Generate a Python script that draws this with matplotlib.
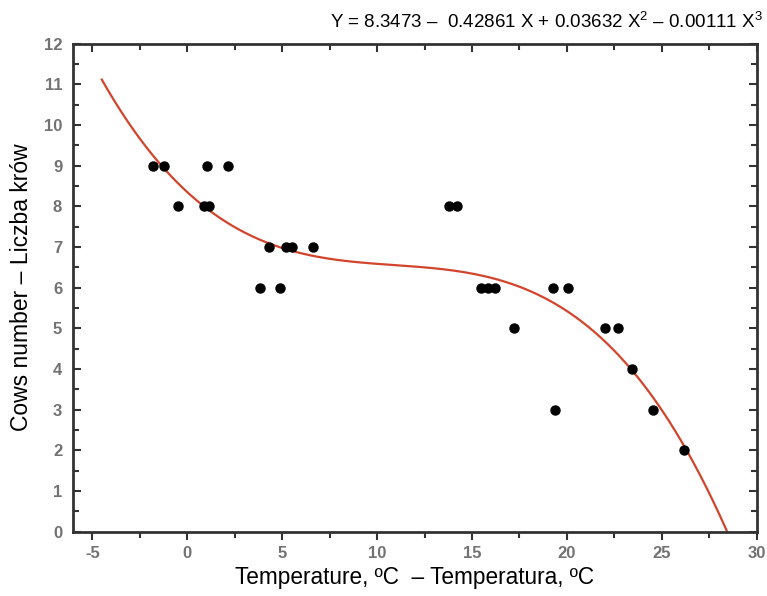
#!/usr/bin/env python3
"""Cows number vs temperature with the cubic fit shown on the chart."""
import matplotlib
matplotlib.use("Agg")
import matplotlib.pyplot as plt
import numpy as np
from matplotlib.ticker import MultipleLocator

# observed points (temperature, cows)
temperature = [-1.8, -1.2, 1.05, 2.15,
               -0.5, 0.9, 1.15, 13.8, 14.2,
               4.3, 5.2, 5.5, 6.65,
               3.85, 4.9, 15.5, 15.85, 16.2, 19.25, 20.05,
               17.2, 22.0, 22.7,
               23.45, 19.35, 24.55, 26.15]
cows = [9, 9, 9, 9,
        8, 8, 8, 8, 8,
        7, 7, 7, 7,
        6, 6, 6, 6, 6, 6, 6,
        5, 5, 5,
        4, 3, 3, 2]

# fitted polynomial as printed on the chart (highest power first)
fit_coeffs = [-0.00111, 0.03632, -0.42861, 8.3473]
fit_start = -4.5
fit_end = 28.45

equation = ("Y = 8.3473 \u2013  0.42861 X + 0.03632 X$^2$ \u2013 0.00111 X$^3$")

plt.rcParams["font.family"] = ["Liberation Sans", "DejaVu Sans"]
plt.rcParams["mathtext.fontset"] = "custom"
plt.rcParams["mathtext.rm"] = "Liberation Sans"
plt.rcParams["axes.unicode_minus"] = False

fig = plt.figure(figsize=(7.67, 5.96), dpi=100)
ax = fig.add_axes([0.0956, 0.108, 0.891, 0.819])

xs = np.linspace(fit_start, fit_end, 400)
ax.plot(xs, np.polyval(fit_coeffs, xs), color="#d2452c", lw=1.6, zorder=2)
ax.plot(temperature, cows, "o", color="black", ms=6.5, zorder=3)

ax.set_xlim(-6, 30)
ax.set_ylim(0, 12)
ax.xaxis.set_major_locator(MultipleLocator(5))
ax.xaxis.set_minor_locator(MultipleLocator(2.5))
ax.yaxis.set_major_locator(MultipleLocator(1))
ax.yaxis.set_minor_locator(MultipleLocator(0.5))

for side in ax.spines.values():
    side.set_linewidth(2.0)
    side.set_color("#333333")

ax.tick_params(axis="both", which="both", colors="#333333", labelcolor="#727272",
               labelsize=12, width=1.5)
ax.tick_params(axis="x", which="both", direction="out", top=True, pad=4)
ax.tick_params(axis="x", which="major", length=6)
ax.tick_params(axis="x", which="minor", length=4)
ax.tick_params(axis="y", which="both", direction="in", right=True, pad=8)
ax.tick_params(axis="y", which="major", length=6)
ax.tick_params(axis="y", which="minor", length=4)
# top ticks point inward, bottom ones outward
for t in ax.xaxis.get_major_ticks() + ax.xaxis.get_minor_ticks():
    t.tick2line.set_marker(3)
for lbl in ax.get_xticklabels() + ax.get_yticklabels():
    lbl.set_fontweight("bold")

ax.set_xlabel("Temperature, \u00baC  \u2013 Temperatura, \u00baC", fontsize=16.3,
              labelpad=4)
ax.set_ylabel("Cows number \u2013 Liczba kr\u00f3w", fontsize=16.5, labelpad=8)

fig.text(0.995, 0.964, equation, ha="right", va="center", fontsize=13.5)

fig.savefig("out.png", dpi=100)
